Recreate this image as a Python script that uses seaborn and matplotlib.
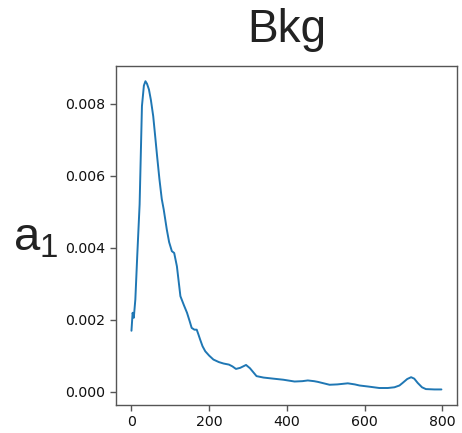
import matplotlib
matplotlib.use("Agg")
import matplotlib.pyplot as plt
import seaborn as sns
import numpy as np
import pandas as pd

x_vals = [0, 3, 6, 10, 15, 21, 27, 32, 36, 40, 45, 50, 56, 61, 66, 72, 78, 83, 91, 97,
          104, 110, 117, 126, 135, 143, 150, 155, 162, 168, 172, 177, 183, 190, 200, 211,
          225, 237, 251, 260, 269, 280, 295, 305, 322, 340, 365, 391, 420, 440, 454, 470,
          480, 495, 510, 530, 557, 575, 587, 610, 638, 660, 677, 690, 698, 710, 720, 728,
          737, 748, 758, 780, 798]
y_milli = [1.69, 2.19, 2.05, 2.56, 3.8, 5.2, 7.93, 8.5, 8.62, 8.55, 8.39, 8.1, 7.65, 7.1,
           6.54, 5.9, 5.35, 5.06, 4.5, 4.15, 3.9, 3.85, 3.48, 2.65, 2.4, 2.19, 1.95, 1.77,
           1.72, 1.72, 1.6, 1.44, 1.26, 1.12, 1.0, 0.89, 0.82, 0.78, 0.75, 0.7, 0.63, 0.66,
           0.74, 0.65, 0.43, 0.39, 0.36, 0.33, 0.28, 0.29, 0.31, 0.29, 0.27, 0.23, 0.19, 0.2,
           0.23, 0.2, 0.17, 0.14, 0.10, 0.10, 0.12, 0.17, 0.24, 0.35, 0.40, 0.36, 0.24, 0.12,
           0.07, 0.06, 0.06]
title_text = "Bkg"
ylabel_text = "a$_1$"

df = pd.DataFrame({"x": x_vals, "y": np.array(y_milli) / 1000.0})

sns.set_style("white")
plt.rcParams["font.family"] = ["DejaVu Sans"]
plt.rcParams["mathtext.default"] = "regular"

fig = plt.figure(figsize=(4.62, 4.33), dpi=100)
ax = fig.add_axes([0.251, 0.065, 0.738, 0.783])
sns.lineplot(data=df, x="x", y="y", ax=ax, color="#1f77b4", linewidth=1.4)

for s in ax.spines.values():
    s.set_color("#555555")
    s.set_linewidth(1.0)
ax.tick_params(axis="both", which="major", length=4, width=1, color="#555555",
               labelsize=10.2, labelcolor="#111111", left=True, bottom=True)
ax.set_xticks([0, 200, 400, 600, 800])
ax.set_yticks([0.0, 0.002, 0.004, 0.006, 0.008])
ax.set_xlabel("")
ax.set_ylabel(ylabel_text, fontsize=34, family="Liberation Sans", rotation=0,
              ha="center", va="center", color="#222222")
ax.yaxis.set_label_coords(-0.235, 0.49)
ax.set_title(title_text, fontsize=33, family="Liberation Sans", pad=17, color="#222222")

fig.savefig("out.png", dpi=100)
